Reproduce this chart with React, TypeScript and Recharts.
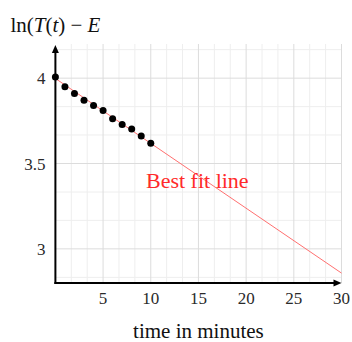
import { ComposedChart, Line, Scatter, XAxis, YAxis, ReferenceLine, ReferenceDot } from 'recharts';

// measured ln(T(t) - E) values, t in minutes
const times = [0, 1, 2, 3, 4, 5, 6, 7, 8, 9, 10];
const lnValues = [4.007, 3.95, 3.91, 3.871, 3.84, 3.811, 3.762, 3.729, 3.702, 3.661, 3.618];

// best fit line end points
const fitTimes = [0, 30];
const fitValues = [3.998, 2.858];

const xTicks = [5, 10, 15, 20, 25, 30];
const yTicks = [3, 3.5, 4];
const xMinorGrid = [1.667, 3.333, 6.667, 8.333, 11.667, 13.333, 16.667, 18.333, 21.667, 23.333, 26.667, 28.333];
const yMinorGrid = [2.833, 3.167, 3.333, 3.667, 3.833, 4.167];

const points = times.map((t, i) => ({ t, v: lnValues[i] }));
const fit = fitTimes.map((t, i) => ({ t, fit: fitValues[i] }));

const FONT = '"Liberation Serif", "Times New Roman", serif';

function AxisArrow(props: any) {
  const { x1, y1, x2, y2, vertical } = props;
  if (vertical) {
    const top = Math.min(y1, y2);
    const bottom = Math.max(y1, y2);
    return (
      <g>
        <line x1={x1} y1={bottom + 1} x2={x1} y2={top + 6} stroke="#000" strokeWidth={2} />
        <polygon points={`${x1},${top + 1} ${x1 - 3.5},${top + 9} ${x1 + 3.5},${top + 9}`} fill="#000" />
      </g>
    );
  }
  const left = Math.min(x1, x2);
  const right = Math.max(x1, x2);
  return (
    <g>
      <line x1={left - 1} y1={y1} x2={right - 5} y2={y1} stroke="#000" strokeWidth={2} />
      <polygon points={`${right},${y1} ${right - 8},${y1 - 3.5} ${right - 8},${y1 + 3.5}`} fill="#000" />
    </g>
  );
}

export default function App() {
  return (
    <div style={{ position: 'absolute', left: 0, top: 0, background: '#fff' }}>
      <ComposedChart width={352} height={342} margin={{ top: 44, right: 10.5, bottom: 0, left: 0.4 }}>
        <XAxis
          type="number"
          dataKey="t"
          domain={[0, 30]}
          ticks={xTicks}
          axisLine={false}
          tickLine={false}
          tickSize={0}
          tickMargin={9}
          height={59}
          tick={{ fontFamily: FONT, fontSize: 17, fill: '#2a2a2a' }}
          label={{ value: 'time in minutes', position: 'insideBottom', offset: 4, style: { fontFamily: FONT, fontSize: 21, fill: '#111' } }}
        />
        <YAxis
          type="number"
          domain={[2.8, 4.2]}
          ticks={yTicks}
          axisLine={false}
          tickLine={false}
          tickSize={0}
          tickMargin={10}
          width={55}
          tick={{ fontFamily: FONT, fontSize: 17, fill: '#2a2a2a' }}
          label={{
            content: (p: any) => {
              const vb = p.viewBox || { x: 0, y: 44 };
              return (
                <text x={vb.x + 10} y={vb.y - 12} fontFamily={FONT} fontSize={21} fill="#111">
                  ln(<tspan fontStyle="italic">T</tspan>(<tspan fontStyle="italic">t</tspan>) − <tspan fontStyle="italic">E</tspan>
                </text>
              );
            },
          }}
        />
        {xMinorGrid.map(x => (
          <ReferenceLine key={'mx' + x} x={x} stroke="#eeeeee" strokeWidth={1} />
        ))}
        {yMinorGrid.map(y => (
          <ReferenceLine key={'my' + y} y={y} stroke="#eeeeee" strokeWidth={1} />
        ))}
        {xTicks.map(x => (
          <ReferenceLine key={'gx' + x} x={x} stroke="#dcdcdc" strokeWidth={1} />
        ))}
        {yTicks.map(y => (
          <ReferenceLine key={'gy' + y} y={y} stroke="#dcdcdc" strokeWidth={1} />
        ))}
        <Line
          data={fit}
          dataKey="fit"
          type="linear"
          stroke="#ff7070"
          strokeWidth={1}
          dot={false}
          activeDot={false}
          isAnimationActive={false}
        />
        <Scatter
          data={points}
          dataKey="v"
          fill="#000"
          shape={(p: any) => <circle cx={p.cx} cy={p.cy} r={3.5} fill="#000" />}
          isAnimationActive={false}
        />
        <ReferenceLine y={2.8} stroke="#000" shape={(p: any) => <AxisArrow {...p} />} />
        <ReferenceLine x={0} stroke="#000" shape={(p: any) => <AxisArrow {...p} vertical />} />
        <ReferenceDot
          x={9.5}
          y={3.356}
          r={0}
          shape={(p: any) => (
            <text x={p.cx} y={p.cy} fontFamily={FONT} fontSize={22} fill="#ff2a2a">
              Best fit line
            </text>
          )}
        />
      </ComposedChart>
    </div>
  );
}
